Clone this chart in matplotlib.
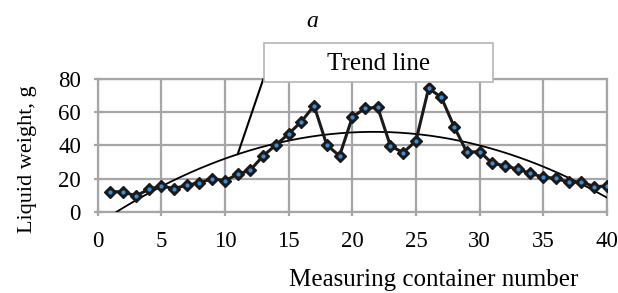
import matplotlib
matplotlib.use('Agg')
import matplotlib.pyplot as plt
import numpy as np
from matplotlib.patches import Rectangle

plt.rcParams['font.family'] = ['Liberation Serif', 'DejaVu Serif']

# data
container = np.arange(1, 41)
weight = [12.1, 12.0, 9.5, 13.5, 15.5, 14.0, 16.0, 17.5, 20.0, 18.7,
          22.6, 25.2, 33.7, 40.3, 47.0, 54.4, 64.0, 40.3, 33.7, 57.0,
          62.5, 63.0, 39.7, 35.7, 42.7, 74.6, 69.0, 51.4, 35.9, 36.3,
          29.2, 27.8, 25.6, 23.2, 20.8, 20.2, 17.7, 18.1, 15.1, 15.5]
x_ticks = [0, 5, 10, 15, 20, 25, 30, 35, 40]
y_ticks = [0, 20, 40, 60, 80]

grid_c = '#a6a6a6'

fig = plt.figure(figsize=(6.18, 2.93), dpi=100)
ax = fig.add_axes([0.158, 0.2775, 0.824, 0.452])

# polynomial trend line (2nd order) fitted to the data
coef = np.polyfit(container, weight, 2)
xs = np.linspace(1, 40, 200)
ax.plot(xs, np.polyval(coef, xs), color='black', lw=1.3, zorder=3)

ax.plot(container, weight, color='#1a1a1a', lw=2.2, marker='D', ms=6.5,
        mfc='#1a1a1a', mec='#1a1a1a', zorder=4)
ax.plot(container, weight, ls='none', marker='o', ms=2, color='#3a8fd8',
        zorder=5)

ax.set_xlim(0, 40)
ax.set_ylim(0, 80)
ax.set_xticks(x_ticks)
ax.set_yticks(y_ticks)
ax.grid(True, color=grid_c, lw=1.6)
ax.set_axisbelow(True)
for s in ax.spines.values():
    s.set_color(grid_c)
    s.set_linewidth(1.6)
ax.tick_params(direction='inout', length=6, width=1.6, color=grid_c,
               labelsize=16.5)
ax.tick_params(axis='x', pad=11)
ax.tick_params(axis='y', pad=9)

ax.set_xlabel('Measuring container number', fontsize=18)
ax.xaxis.set_label_coords(0.659, -0.43)
ax.set_ylabel('Liquid weight, g', fontsize=16)
ax.yaxis.set_label_coords(-0.119, 0.40)

fig.text(0.506, 0.925, 'a', fontsize=17, style='italic', ha='center', va='center')

# label box for the trend line
fig.add_artist(Rectangle((0.427, 0.72), 0.371, 0.133, transform=fig.transFigure,
                         facecolor='white', edgecolor='#b5b5b5', lw=1.2, zorder=5))
fig.text(0.612, 0.782, 'Trend line', fontsize=18, ha='center', va='center', zorder=6)
ax.annotate('', xy=(11, np.polyval(coef, 11)), xycoords='data',
            xytext=(0.426, 0.73), textcoords='figure fraction',
            arrowprops=dict(arrowstyle='-', color='black', lw=1.5,
                            shrinkA=0, shrinkB=0))

plt.savefig('out.png', dpi=100)
